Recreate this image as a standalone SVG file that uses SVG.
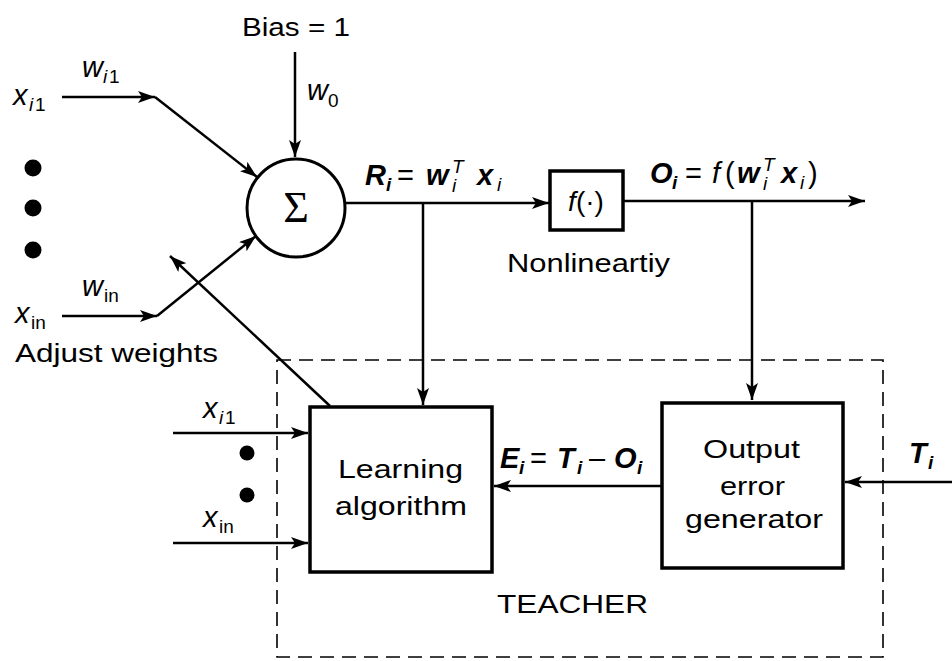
<svg xmlns="http://www.w3.org/2000/svg" width="952" height="661" viewBox="0 0 952 661">
<style>
text{font-family:"Liberation Sans",Arial,sans-serif;font-size:26px;fill:#000}
.v{font-style:italic;font-size:29px}
.b{font-style:italic;font-weight:bold;font-size:29px}
.s{font-size:19px;font-style:normal}
.si{font-size:19px;font-style:italic}
.op{font-size:29px}
.ln{stroke:#000;stroke-width:2.5;fill:none}
.box{stroke:#000;stroke-width:3.5;fill:#fff}
.dash{stroke:#000;stroke-width:1.6;fill:none;stroke-dasharray:14 8}
</style>
<defs>
<marker id="ah" markerUnits="userSpaceOnUse" markerWidth="18" markerHeight="12" refX="17" refY="6" orient="auto">
<path d="M0,0 L17,6 L0,12 L4,6 Z" fill="#000"/>
</marker>
</defs>
<rect width="952" height="661" fill="#fff"/>
<g id="teacher">
<rect class="dash" x="277" y="360" width="606" height="297"/>
<text x="497" y="613" textLength="151" lengthAdjust="spacingAndGlyphs">TEACHER</text>
</g>
<g id="connectors">
<path class="ln" d="M295,52 V157" marker-end="url(#ah)"/>
<path class="ln" d="M62,97 H155" marker-end="url(#ah)"/>
<path class="ln" d="M155,97 L257,177" marker-end="url(#ah)"/>
<path class="ln" d="M62,316 H157" marker-end="url(#ah)"/>
<path class="ln" d="M157,316 L256,236" marker-end="url(#ah)"/>
<path class="ln" d="M330,406 L170,256" marker-end="url(#ah)"/>
<path class="ln" d="M345,203 H549" marker-end="url(#ah)"/>
<path class="ln" d="M423,203 V405" marker-end="url(#ah)"/>
<path class="ln" d="M623,201 H865" marker-end="url(#ah)"/>
<path class="ln" d="M752,201 V400" marker-end="url(#ah)"/>
<path class="ln" d="M662,486 H494" marker-end="url(#ah)"/>
<path class="ln" d="M952,482 H845" marker-end="url(#ah)"/>
<path class="ln" d="M173,433 H308" marker-end="url(#ah)"/>
<path class="ln" d="M173,543 H308" marker-end="url(#ah)"/>
</g>
<g id="inputs">
<text x="242" y="36" textLength="108" lengthAdjust="spacingAndGlyphs">Bias = 1</text>
<text class="v" x="307" y="100">w<tspan class="s" x="328" y="107">0</tspan></text>
<text class="v" x="13" y="105">x<tspan class="si" x="29" y="111">i</tspan><tspan class="s" x="35" y="111">1</tspan></text>
<text class="v" x="82" y="77">w<tspan class="si" x="103" y="83">i</tspan><tspan class="s" x="109" y="83">1</tspan></text>
<text class="v" x="15" y="323">x<tspan class="s" x="31" y="329">in</tspan></text>
<text class="v" x="82" y="296">w<tspan class="s" x="104" y="302">in</tspan></text>
<circle cx="33" cy="168" r="8.5"/>
<circle cx="33" cy="208" r="8.5"/>
<circle cx="33" cy="250" r="8.5"/>
<text x="15" y="362" textLength="203" lengthAdjust="spacingAndGlyphs">Adjust weights</text>
</g>
<g id="sum">
<circle cx="296" cy="208" r="49" fill="#fff" stroke="#000" stroke-width="3"/>
<text x="296" y="222" text-anchor="middle" style="font-family:'Liberation Serif','Times New Roman',serif;font-size:44px">Σ</text>
</g>
<g id="labels">
<text class="b" x="365" y="185">R<tspan class="si" x="386" y="191">i</tspan><tspan class="op" font-style="normal" font-weight="normal" x="397" y="185">=</tspan><tspan x="426" y="185">w</tspan><tspan class="si" font-weight="normal" x="452" y="173">T</tspan><tspan class="si" font-weight="normal" x="452" y="192">i</tspan><tspan x="477" y="185">x</tspan><tspan class="si" font-weight="normal" x="497" y="191">i</tspan></text>
<text class="b" x="650" y="183">O<tspan class="si" x="672" y="189">i</tspan><tspan class="op" font-style="normal" font-weight="normal" x="685" y="183">=</tspan><tspan font-weight="normal" x="712" y="183">f</tspan><tspan font-style="normal" font-weight="normal" x="725" y="183">(</tspan><tspan x="737" y="183">w</tspan><tspan class="si" font-weight="normal" x="763" y="171">T</tspan><tspan class="si" font-weight="normal" x="763" y="190">i</tspan><tspan x="781" y="183">x</tspan><tspan class="si" font-weight="normal" x="800" y="189">i</tspan><tspan font-style="normal" font-weight="normal" x="808" y="183">)</tspan></text>
<text class="b" x="500" y="468">E<tspan class="si" x="519" y="474">i</tspan><tspan class="op" font-style="normal" font-weight="normal" x="530" y="468">=</tspan><tspan x="557" y="468">T</tspan><tspan class="si" x="577" y="474">i</tspan><tspan class="op" font-style="normal" font-weight="normal" x="589" y="468">–</tspan><tspan x="614" y="468">O</tspan><tspan class="si" x="637" y="474">i</tspan></text>
<text class="b" x="909" y="463">T<tspan class="si" x="928" y="469">i</tspan></text>
<text class="v" x="203" y="418">x<tspan class="si" x="219" y="424">i</tspan><tspan class="s" x="225" y="424">1</tspan></text>
<text class="v" x="203" y="527">x<tspan class="s" x="219" y="533">in</tspan></text>
<circle cx="247" cy="453" r="7.5"/>
<circle cx="247" cy="495" r="7.5"/>
</g>
<g id="nonlinearity">
<rect class="box" x="550" y="171" width="73" height="59"/>
<text x="586" y="211" text-anchor="middle" style="font-size:28px"><tspan font-style="italic">f</tspan>(·)</text>
<text x="507" y="272" textLength="163" lengthAdjust="spacingAndGlyphs">Nonlineartiy</text>
</g>
<g id="learning">
<rect class="box" x="310" y="407" width="182" height="165"/>
<text x="338" y="478" textLength="125" lengthAdjust="spacingAndGlyphs">Learning</text>
<text x="335" y="515" textLength="132" lengthAdjust="spacingAndGlyphs">algorithm</text>
</g>
<g id="output-error">
<rect class="box" x="662" y="403" width="181" height="165"/>
<text x="703" y="458" textLength="97" lengthAdjust="spacingAndGlyphs">Output</text>
<text x="720" y="495" textLength="65" lengthAdjust="spacingAndGlyphs">error</text>
<text x="685" y="528" textLength="138" lengthAdjust="spacingAndGlyphs">generator</text>
</g>
</svg>
